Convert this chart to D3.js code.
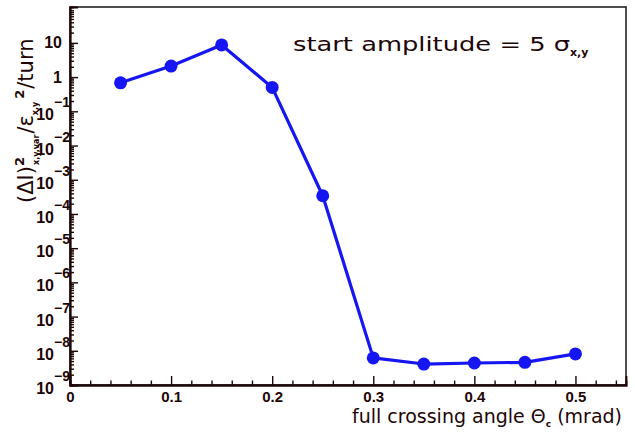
<!DOCTYPE html>
<html><head><meta charset="utf-8">
<script src="https://cdn.jsdelivr.net/npm/d3@7"></script>
<style>
  body { margin: 0; background: #fff; }
  svg { display: block; }
</style>
</head><body>
<svg id="chart" width="635" height="432"></svg>
<script>
// Diffusion rate vs. full crossing angle (start amplitude 5 sigma)
const angles    = [0.05, 0.10, 0.15, 0.20, 0.25, 0.30, 0.35, 0.40, 0.45, 0.50];
const diffusion = [0.68, 2.1, 8.7, 0.5, 3.4e-4, 6.2e-9, 4.1e-9, 4.4e-9, 4.6e-9, 8.1e-9];

const xTickValues = [0, 0.1, 0.2, 0.3, 0.4, 0.5];
const xTickLabels = ["0", "0.1", "0.2", "0.3", "0.4", "0.5"];
const yTickExponents = [1, 0, -1, -2, -3, -4, -5, -6, -7, -8, -9];

const plot = { left: 70, right: 626, top: 7, bottom: 385 };
const ink = "#1e0606";
const blue = "#1616f2";

const svg = d3.select("#chart");

const x = d3.scaleLinear().domain([0, 0.55]).range([plot.left, plot.right]);
const y = d3.scaleLog().domain([1e-9, 112]).range([plot.bottom, plot.top]);

// frame
svg.append("rect")
  .attr("x", plot.left).attr("y", plot.top)
  .attr("width", plot.right - plot.left).attr("height", plot.bottom - plot.top)
  .attr("fill", "none").attr("stroke", "#222").attr("stroke-width", 1.6);

function styleAxis(g) {
  g.select(".domain").attr("stroke", ink).attr("stroke-width", 1.8);
  g.selectAll(".tick line").attr("stroke", ink).attr("stroke-width", 1.4);
}

// y axis: major and minor log ticks pointing inward
const yMajor = yTickExponents.map(e => Math.pow(10, e));
const yMinor = [];
for (let e = -9; e <= 2; e++) {
  for (let m = 2; m <= 9; m++) {
    const v = m * Math.pow(10, e);
    if (v <= y.domain()[1]) yMinor.push(v);
  }
}
const yAxisMinor = svg.append("g").attr("transform", `translate(${plot.left},0)`)
  .call(d3.axisLeft(y).tickValues(yMinor).tickSize(-4).tickFormat(""));
yAxisMinor.selectAll(".tick text").remove();
const yAxisMajor = svg.append("g").attr("transform", `translate(${plot.left},0)`)
  .call(d3.axisLeft(y).tickValues(yMajor).tickSize(-8).tickFormat(""));
yAxisMajor.selectAll(".tick text").remove();
styleAxis(yAxisMinor); styleAxis(yAxisMajor);

// x axis: major and minor ticks pointing inward
const xMinor = d3.range(1, 28).map(i => i * 0.02).filter(v => Math.abs(v * 10 - Math.round(v * 10)) > 1e-6);
const xAxisMinor = svg.append("g").attr("transform", `translate(0,${plot.bottom})`)
  .call(d3.axisBottom(x).tickValues(xMinor).tickSize(-4.5).tickFormat(""));
xAxisMinor.selectAll(".tick text").remove();
const xAxisMajor = svg.append("g").attr("transform", `translate(0,${plot.bottom})`)
  .call(d3.axisBottom(x).tickValues(xTickValues).tickSize(-9).tickPadding(6)
    .tickFormat((d, i) => xTickLabels[i]));
styleAxis(xAxisMinor); styleAxis(xAxisMajor);
xAxisMajor.selectAll(".tick text")
  .attr("fill", ink)
  .style("font-family", "'Liberation Sans', Arial, sans-serif")
  .style("font-weight", "bold")
  .style("font-size", "15px");

// y tick labels (powers of ten)
const yLab = svg.append("g")
  .style("font-family", "'Liberation Sans', Arial, sans-serif")
  .style("font-weight", "bold")
  .attr("fill", ink);
yTickExponents.forEach(e => {
  const yy = y(Math.pow(10, e));
  if (e === 1) {
    yLab.append("text").attr("x", 62).attr("y", yy + 5.5)
      .attr("text-anchor", "end").style("font-size", "16px").text("10");
  } else if (e === 0) {
    yLab.append("text").attr("x", 62).attr("y", yy + 5.5)
      .attr("text-anchor", "end").style("font-size", "16px").text("1");
  } else {
    yLab.append("text").attr("x", 54).attr("y", yy + 9)
      .attr("text-anchor", "end").style("font-size", "16px").text("10");
    yLab.append("text").attr("x", 54).attr("y", yy - 4)
      .attr("text-anchor", "start").style("font-size", "14px").text("\u2212" + Math.abs(e));
  }
});

// data line and markers
const line = d3.line().x((d, i) => x(angles[i])).y(d => y(d));
svg.append("path")
  .datum(diffusion)
  .attr("d", line)
  .attr("fill", "none")
  .attr("stroke", blue)
  .attr("stroke-width", 3.2)
  .attr("stroke-linejoin", "round");
svg.append("g").selectAll("circle")
  .data(diffusion)
  .join("circle")
  .attr("cx", (d, i) => x(angles[i]))
  .attr("cy", d => y(d))
  .attr("r", 6.5)
  .attr("fill", blue);

// annotation
const note = svg.append("text")
  .attr("x", 293).attr("y", 51)
  .attr("fill", ink)
  .style("font-family", "'DejaVu Sans', sans-serif")
  .style("font-size", "20px");
note.append("tspan")
  .attr("textLength", 277).attr("lengthAdjust", "spacingAndGlyphs")
  .text("start amplitude = 5 \u03c3");
note.append("tspan").attr("dy", 5).style("font-size", "11px").style("font-weight", "bold").text("x,y");

// x axis title
const xt = svg.append("text")
  .attr("x", 622).attr("y", 423)
  .attr("text-anchor", "end")
  .attr("fill", ink)
  .style("font-family", "'DejaVu Sans', sans-serif")
  .style("font-size", "19px");
xt.append("tspan").text("full crossing angle \u0398");
xt.append("tspan").attr("dy", 4).style("font-size", "9px").style("font-weight", "bold").text("c");
xt.append("tspan").attr("dy", -4).text(" (mrad)");

// y axis title (rotated): (ΔI)^2_{x,y,var} / ε_{x,y}^2 / turn
const yt = svg.append("text")
  .attr("transform", "translate(33,203) rotate(-90)")
  .attr("fill", ink)
  .style("font-family", "'DejaVu Sans', sans-serif")
  .style("font-size", "21px");
yt.append("tspan").text("(\u0394I)");
yt.append("tspan").attr("dy", -9).style("font-size", "13px").style("font-weight", "bold").text("2");
yt.append("tspan").attr("dy", 15).attr("dx", -8).style("font-size", "8px").style("font-weight", "bold").text("x,y,var");
yt.append("tspan").attr("dy", -6).attr("dx", 1).text("/\u03b5");
yt.append("tspan").attr("dy", 5).style("font-size", "8px").style("font-weight", "bold").text("x,y");
yt.append("tspan").attr("dy", -14).attr("dx", 3).style("font-size", "13px").style("font-weight", "bold").text("2");
yt.append("tspan").attr("dy", 9).attr("dx", 1).text("/turn");
</script>
</body></html>
